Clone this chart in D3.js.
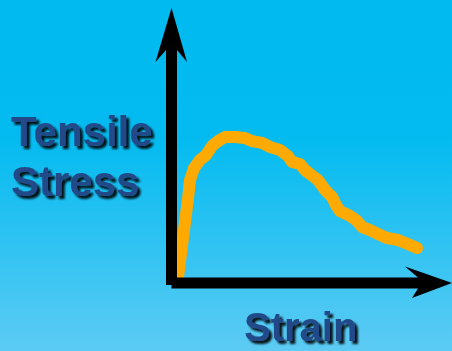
<!DOCTYPE html>
<html>
<head>
<meta charset="utf-8">
<script src="https://cdn.jsdelivr.net/npm/d3@7"></script>
<style>
  html, body { margin: 0; padding: 0; background: #00bbf0; }
  svg { display: block; }
</style>
</head>
<body>
<script>
// Stress–strain curve (arbitrary units)
const strain = [0, 0.42, 0.5, 0.67, 0.92, 1.17, 1.42, 1.67, 1.96, 2.38, 2.79, 3.08, 3.5, 3.83,
  4.25, 4.58, 4.75, 5.08, 5.29, 5.5, 5.83, 6.13, 6.42, 6.58, 6.75, 7.17, 7.46, 7.67, 8.0,
  8.33, 8.71, 9.17, 9.58, 9.96];
const stress = [0, 5.49, 6.74, 7.57, 8.13, 8.47, 9.1, 9.44, 9.72, 9.72, 9.65, 9.44, 9.31, 9.03,
  8.82, 8.4, 7.99, 7.85, 7.43, 7.15, 6.74, 6.04, 5.56, 5.0, 4.58, 4.24, 3.89, 3.47, 3.26,
  2.99, 2.71, 2.57, 2.29, 2.01];
const yLabelLines = ["Tensile", "Stress"];
const xLabel = "Strain";

const W = 452, H = 351;
const svg = d3.select("body").append("svg").attr("width", W).attr("height", H);
const defs = svg.append("defs");

const grad = defs.append("linearGradient").attr("id", "bg")
  .attr("x1", 0).attr("y1", 0).attr("x2", 0).attr("y2", 1);
grad.append("stop").attr("offset", "0%").attr("stop-color", "#00baf0");
grad.append("stop").attr("offset", "40%").attr("stop-color", "#04bbf0");
grad.append("stop").attr("offset", "100%").attr("stop-color", "#5ccbf4");

const shadow = defs.append("filter").attr("id", "shadow")
  .attr("x", "-10%").attr("y", "-20%").attr("width", "130%").attr("height", "150%");
shadow.append("feDropShadow").attr("dx", 3).attr("dy", 3).attr("stdDeviation", 1.2)
  .attr("flood-color", "#000").attr("flood-opacity", 0.9);

svg.append("rect").attr("width", W).attr("height", H).attr("fill", "url(#bg)");

const x = d3.scaleLinear().domain([0, 10]).range([178, 418]);
const y = d3.scaleLinear().domain([0, 10]).range([277, 133]);

const ax = x(0) - 6.5;   // vertical shaft centre
const ay = y(0) + 6;     // horizontal shaft centre
const hw = 5.5;          // half shaft width

// Curve, drawn beneath the axes so they trim its foot
const pts = strain.map((s, i) => [s, stress[i]]);
svg.append("path")
  .datum(pts)
  .attr("d", d3.line().x(d => x(d[0])).y(d => y(d[1])).curve(d3.curveLinear))
  .attr("fill", "none")
  .attr("stroke", "#ffaa00")
  .attr("stroke-width", 12)
  .attr("stroke-linejoin", "round")
  .attr("stroke-linecap", "round");

// Axes as arrows
svg.append("path")
  .attr("d", `M${ax - hw},${ay + 2} L${ax - hw},50 L${ax - 16},62 L${ax},8 L${ax + 15.5},62 L${ax + hw},50 L${ax + hw},${ay + 2} Z`)
  .attr("fill", "#000");

svg.append("path")
  .attr("d", `M${ax},${ay - hw} L418,${ay - hw} L405,${ay - 16.5} L452,${ay} L412,${ay + 15} L418,${ay + hw} L${ax},${ay + hw} Z`)
  .attr("fill", "#000");

// Labels
const labelStyle = sel => sel
  .attr("font-family", "'Liberation Sans', Arial, sans-serif")
  .attr("font-weight", "bold")
  .attr("fill", "#204a88")
  .attr("filter", "url(#shadow)");

svg.append("g").selectAll("text").data(yLabelLines).join("text")
  .attr("x", 11).attr("y", (d, i) => 146 + i * 50)
  .attr("font-size", 42)
  .call(labelStyle)
  .text(d => d);

svg.append("text")
  .attr("x", 244).attr("y", 341)
  .attr("font-size", 40)
  .call(labelStyle)
  .text(xLabel);
</script>
</body>
</html>
